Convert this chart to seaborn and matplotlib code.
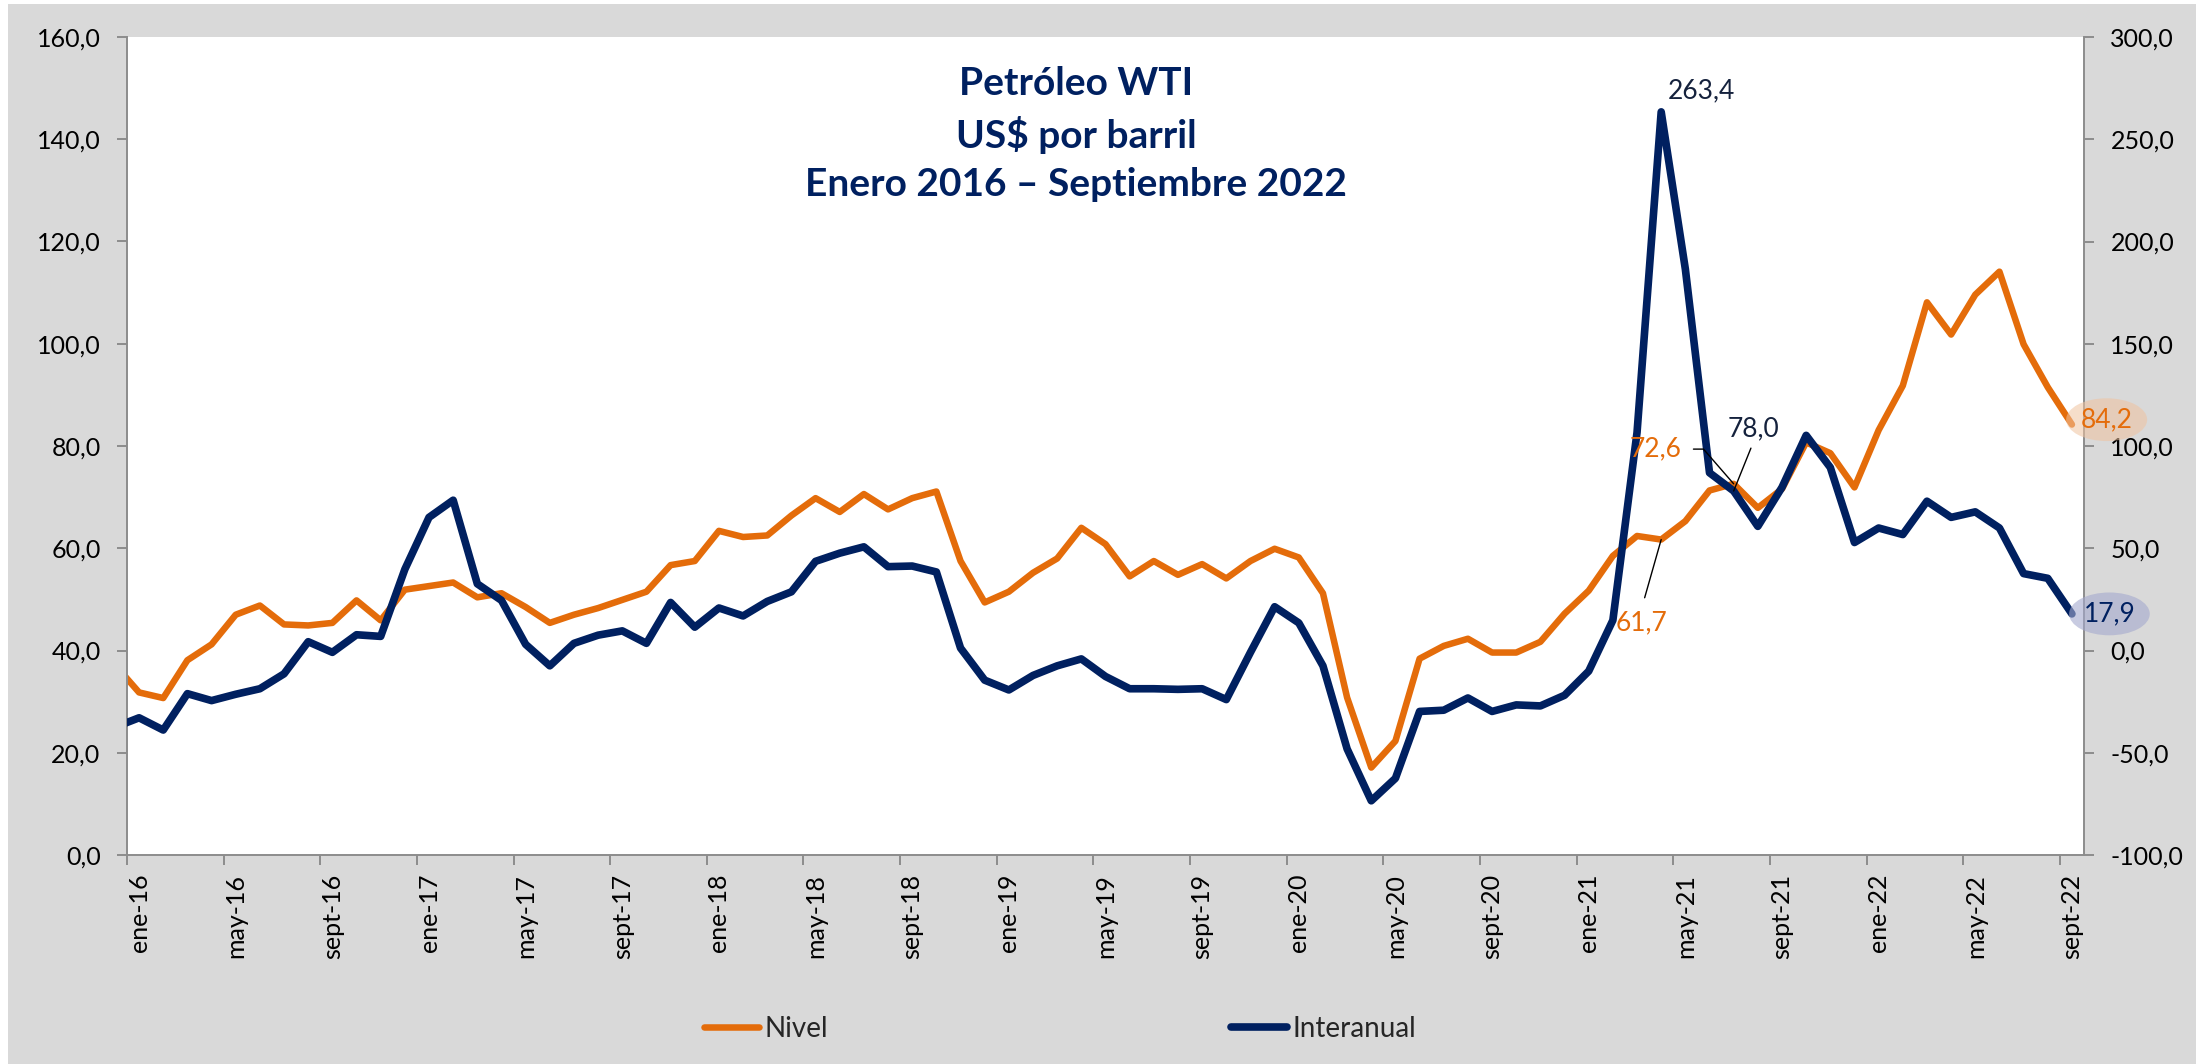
import matplotlib
matplotlib.use('Agg')
import matplotlib.pyplot as plt
import matplotlib.ticker as mticker
from matplotlib.patches import Rectangle
import numpy as np
import seaborn as sns

# Monthly values, dic-15 (clipped at the left edge) to sept-22
nivel = [37.2,
         31.8, 30.7, 38.1, 41.2, 47.0, 48.8, 45.1, 44.9, 45.4, 49.8, 45.9, 51.9,
         52.6, 53.3, 50.4, 51.2, 48.5, 45.4, 47.0, 48.3, 49.9, 51.5, 56.7, 57.5,
         63.4, 62.2, 62.5, 66.4, 69.8, 67.1, 70.6, 67.6, 69.8, 71.1, 57.5, 49.4,
         51.5, 55.2, 58.0, 64.0, 60.8, 54.5, 57.5, 54.8, 56.9, 54.1, 57.5, 59.9,
         58.2, 51.2, 30.8, 17.1, 22.3, 38.4, 40.9, 42.3, 39.6, 39.6, 41.7, 47.2,
         51.7, 58.5, 62.4, 61.7, 65.3, 71.3, 72.6, 67.9, 71.6, 80.7, 78.6, 71.9,
         83.1, 91.8, 108.1, 101.8, 109.6, 114.1, 99.9, 91.5, 84.2]

interanual = [-37.5,
              -32.9, -38.9, -21.1, -24.5, -21.4, -18.7, -11.4, 4.3, -0.9, 7.7, 6.9, 39.7,
              65.1, 73.5, 32.6, 24.5, 3.0, -7.5, 3.5, 7.5, 9.6, 3.5, 23.5, 11.4,
              20.8, 16.9, 24.0, 28.7, 43.6, 47.6, 50.7, 41.0, 41.3, 38.4, 1.2, -14.5,
              -19.3, -12.2, -7.5, -4.1, -12.7, -18.7, -18.7, -19.0, -18.7, -24.0, -0.9, 21.4,
              13.5, -7.5, -48.1, -73.5, -62.5, -29.8, -29.2, -23.2, -29.8, -26.6, -27.1, -21.9,
              -10.1, 14.8, 106.6, 263.4, 186.5, 86.9, 78.0, 60.7, 79.8, 105.2, 89.5, 52.8,
              59.9, 56.7, 73.0, 65.1, 67.8, 59.9, 37.6, 35.3, 17.9]

tick_labels = ['ene-16', 'may-16', 'sept-16', 'ene-17', 'may-17', 'sept-17',
               'ene-18', 'may-18', 'sept-18', 'ene-19', 'may-19', 'sept-19',
               'ene-20', 'may-20', 'sept-20', 'ene-21', 'may-21', 'sept-21',
               'ene-22', 'may-22', 'sept-22']

orange = '#E46C0A'
navy = '#002060'
dark = '#15223D'
grey = '#8C8C8C'

sns.set_theme(style='white')
plt.rcParams['font.family'] = ['Lato', 'DejaVu Sans']


def num(v):
    return f'{v:.1f}'.replace('.', ',')


fig = plt.figure(figsize=(22.08, 10.64), dpi=100)
fig.patch.set_facecolor('white')
fig.add_artist(Rectangle((8 / 2208, 0), 2188 / 2208, 1060 / 1064,
                         transform=fig.transFigure, facecolor='#D9D9D9',
                         edgecolor='none', zorder=-10))

ax = fig.add_axes([127 / 2208, 1 - 855 / 1064, (2084 - 127) / 2208, (855 - 37) / 1064])
ax.set_facecolor('white')
ax2 = ax.twinx()

# points sit in the middle of each month
pos = np.arange(len(nivel)) - 0.5

sns.lineplot(x=pos, y=nivel, ax=ax, color=orange, linewidth=4.7)
sns.lineplot(x=pos, y=interanual, ax=ax2, color=navy, linewidth=5.5)
for ln in ax.lines + ax2.lines:
    ln.set_solid_joinstyle('round')
    ln.set_solid_capstyle('round')

ax.set_xlim(0, 81)
ax.set_ylim(0, 160)
ax2.set_ylim(-100, 300)
ax.set_xlabel('')
ax.set_ylabel('')
ax2.set_ylabel('')

tick_pos = np.arange(0, 81, 4)
ax.set_xticks(tick_pos + 0.5, tick_labels, rotation=90)
ax.set_xticks(tick_pos, minor=True)
ax.tick_params(axis='x', which='major', length=0, pad=13.5, labelsize=18, labelcolor='black')
ax.tick_params(axis='x', which='minor', bottom=True, length=7, width=1.4, color=grey, direction='out')

ax.set_yticks(np.arange(0, 161, 20))
ax2.set_yticks(np.arange(-100, 301, 50))
fmt = mticker.FuncFormatter(lambda v, p: num(v))
ax.yaxis.set_major_formatter(fmt)
ax2.yaxis.set_major_formatter(fmt)
ax.tick_params(axis='y', left=True, length=7, width=1.4, color=grey, direction='out',
               pad=12, labelsize=18, labelcolor='black')
ax2.tick_params(axis='y', right=True, length=7, width=1.4, color=grey, direction='out',
                pad=12, labelsize=18, labelcolor='black')

for side in ['top', 'right']:
    ax.spines[side].set_visible(False)
for side in ['left', 'bottom']:
    ax.spines[side].set_color(grey)
    ax.spines[side].set_linewidth(1.4)
for side in ['top', 'left', 'bottom']:
    ax2.spines[side].set_visible(False)
ax2.spines['right'].set_color(grey)
ax2.spines['right'].set_linewidth(1.4)

fig.text(1076 / 2208, 1 - 134 / 1064, 'Petróleo WTI\nUS$ por barril\nEnero 2016 – Septiembre 2022',
         ha='center', va='center', fontsize=28, fontweight='bold', color=navy, linespacing=1.45)

# data labels
lead = dict(arrowstyle='-', color='black', lw=1, shrinkB=0)
ax2.annotate(num(interanual[64]), xy=(pos[64], interanual[64]), xytext=(5, 15),
             textcoords='offset points', ha='left', va='center', fontsize=19, color=dark)
ax2.annotate(num(interanual[67]), xy=(pos[67], interanual[67]), xytext=(14.5, 45),
             textcoords='offset points', ha='center', va='center', fontsize=19, color=dark,
             arrowprops=dict(lead, relpos=(0.5, 0), shrinkA=3))
ax2.annotate(num(nivel[67]), xy=(pos[67], nivel[67]), xycoords=ax.transData, xytext=(-56, 25),
             textcoords='offset points', ha='center', va='center', fontsize=19, color=orange,
             arrowprops=dict(lead, relpos=(1, 0.5), shrinkA=6,
                             connectionstyle='angle,angleA=0,angleB=-49,rad=0'))
ax2.annotate(num(nivel[64]), xy=(pos[64], nivel[64]), xycoords=ax.transData, xytext=(-14.5, -60),
             textcoords='offset points', ha='center', va='center', fontsize=19, color=orange,
             arrowprops=dict(lead, relpos=(0.5, 1), shrinkA=7))
ax2.annotate(num(nivel[-1]), xy=(pos[-1], nivel[-1]), xycoords=ax.transData, xytext=(25, 3.5),
             textcoords='offset points', ha='center', va='center', fontsize=19, color=orange,
             bbox=dict(boxstyle='ellipse,pad=0.1', fc='#F0C3A0', ec='none', alpha=0.55))
ax2.annotate(num(interanual[-1]), xy=(pos[-1], interanual[-1]), xytext=(27, 0),
             textcoords='offset points', ha='center', va='center', fontsize=19, color=navy,
             bbox=dict(boxstyle='ellipse,pad=0.1', fc='#A4A9CE', ec='none', alpha=0.6))

fig.legend([ax.lines[0], ax2.lines[0]], ['Nivel', 'Interanual'], loc='center',
           bbox_to_anchor=(1060 / 2208, 1 - 1029 / 1064), ncol=2, frameon=False,
           fontsize=20, handlelength=2.0, handletextpad=0.2, columnspacing=14.5)

fig.savefig('out.png', dpi=100)
